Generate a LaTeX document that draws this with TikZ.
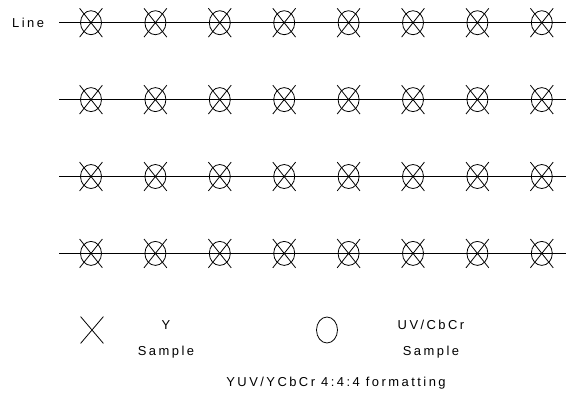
\documentclass[tikz,border=0pt]{standalone}
\usepackage{fontspec}
\setmainfont{Liberation Sans}
\newfontfamily\spaced[LetterSpace=19]{Liberation Sans}
\usetikzlibrary{shapes.geometric,shapes.misc}
\tikzset{
  ysample/.style={cross out,draw,line width=0.8pt,minimum width=22bp,
    minimum height=28bp,inner sep=0pt},
  uvsample/.style={ellipse,draw,line width=0.8pt,minimum width=21bp,
    minimum height=24bp,inner sep=0pt},
  lbltext/.style={font=\spaced\fontsize{13}{15}\selectfont,inner sep=0pt,
    anchor=base}
}
\begin{document}
\begin{tikzpicture}[x=1bp,y=-1bp]
\useasboundingbox (0,0) rectangle (566,398);
% sampling grid
\foreach \r in {0,...,3} {
  \coordinate (start\r) at (59,22.7+76.9*\r);
  \coordinate (end\r) at (566,22.7+76.9*\r);
  \draw[line width=1pt] (start\r) -- (end\r);
  \foreach \c in {0,...,7} {
    \node[uvsample] (uv\r\c) at (91+64.4*\c,22.7+76.9*\r) {};
    \node[ysample] (y\r\c) at (uv\r\c) {};
  }
}
\node[lbltext,anchor=base west] (linelbl) at (12,27.5) {Line};
% key
\node[ysample,minimum height=26bp] (ykey) at (92,330) {};
\node[lbltext] (ytxt) at (166,329) {Y};
\node[lbltext] (ysmp) at (166,355) {Sample};
\node[uvsample,minimum width=21bp,minimum height=26bp] (uvkey) at (327,330) {};
\node[lbltext] (uvtxt) at (431,329) {UV/CbCr};
\node[lbltext] (uvsmp) at (431,355) {Sample};
\node[lbltext] (caption) at (336,386) {YUV/YCbCr 4:4:4 formatting};
\end{tikzpicture}
\end{document}
